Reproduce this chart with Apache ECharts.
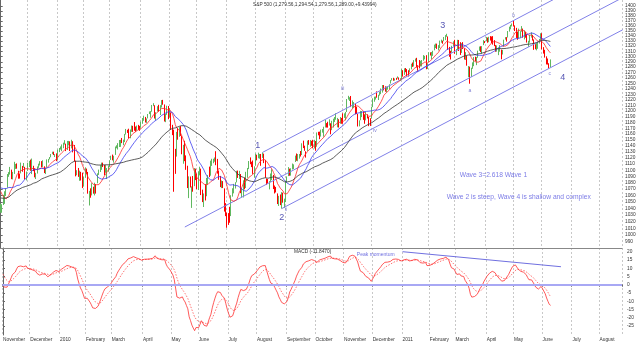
<!DOCTYPE html>
<html><head><meta charset="utf-8">
<script src="https://cdn.jsdelivr.net/npm/echarts@6/dist/echarts.min.js"></script>
<style>html,body{margin:0;padding:0;background:#fff}#c{width:640px;height:342px}</style>
</head><body><div id="c"></div>
<script>
// ---------- categories ----------
const firstDay = '2009-11-02';
const totalSlots = 456;
const holidays = ['2009-11-26','2009-12-25','2010-01-01','2010-01-18','2010-02-15','2010-04-02','2010-05-31','2010-07-05','2010-09-06','2010-11-25','2010-12-24','2011-01-17','2011-02-21','2011-04-22','2011-05-30','2011-07-04'];
const monthNames = ['January','February','March','April','May','June','July','August','September','October','November','December'];

// ---------- S&P 500 daily values (Sep 2009 - Oct 2009 warm-up closes for indicators) ----------
const warmupClose = [998.04,994.75,1003.24,1016.40,1025.39,1033.37,1044.14,1042.73,1049.34,1052.63,1068.76,1065.49,1068.30,1064.66,1071.66,1060.87,1050.78,1044.38,1062.98,1060.61,1057.08,
1029.85,1025.21,1040.46,1054.72,1057.58,1065.48,1071.49,1076.19,1073.19,1092.02,1096.56,1087.68,1097.91,1091.06,1081.40,1092.91,1079.60,1066.95,1063.41,1042.63,1066.11,1036.19];

const close = [
1042.88,1045.41,1046.50,1066.63,1069.30,1093.08,1093.01,1098.51,1087.24,1093.48,1109.30,1110.32,1109.80,1094.90,1091.38,1106.24,1105.65,1110.63,1091.49,1095.63,
1108.86,1109.24,1099.92,1105.98,1103.25,1091.94,1095.95,1102.35,1106.41,1114.11,1107.93,1109.18,1096.08,1102.47,1114.05,1118.02,1120.59,1126.48,1127.78,1126.20,1126.42,1115.10,
1132.99,1136.52,1137.14,1141.69,1144.98,1146.98,1136.22,1145.68,1148.46,1136.03,1150.23,1138.04,1116.48,1091.76,1096.78,1092.17,1097.50,1084.53,1073.87,
1089.19,1103.32,1097.28,1063.11,1066.19,1056.74,1070.52,1068.13,1078.47,1075.51,1094.87,1099.51,1106.75,1109.17,1108.01,1094.60,1105.24,1102.94,1104.49,
1115.71,1118.31,1118.79,1122.97,1138.70,1138.50,1140.45,1145.61,1150.24,1149.99,1150.51,1159.46,1166.21,1165.83,1159.90,1165.81,1174.17,1167.72,1165.73,1166.59,1173.22,1173.27,1169.43,
1178.10,1187.44,1189.44,1182.45,1186.44,1194.37,1196.48,1197.30,1210.65,1211.67,1192.13,1197.52,1207.17,1205.94,1208.67,1217.28,1212.05,1183.71,1191.36,1206.78,1186.69,
1202.26,1173.60,1165.90,1128.15,1110.88,1159.73,1155.79,1171.67,1157.44,1135.68,1136.94,1120.80,1115.05,1071.59,1087.69,1073.65,1074.03,1067.95,1103.06,1089.41,
1070.71,1098.38,1102.83,1064.88,1050.47,1062.00,1055.69,1086.84,1091.60,1089.63,1115.23,1114.61,1116.04,1117.51,1113.20,1095.31,1092.04,1073.69,1076.76,1074.57,1041.24,1030.71,
1027.37,1022.58,1028.06,1060.27,1070.25,1077.96,1078.75,1095.34,1095.17,1096.48,1064.88,1071.25,1083.48,1069.59,1093.67,1102.66,1115.01,1113.84,1106.13,1101.53,1101.60,
1125.86,1120.46,1127.24,1125.81,1121.64,1127.79,1121.06,1089.47,1083.61,1079.25,1079.38,1092.54,1094.16,1075.63,1071.69,1067.36,1051.87,1055.33,1047.22,1064.59,1048.92,1049.33,
1080.29,1090.10,1104.51,1091.84,1098.87,1104.18,1109.55,1121.90,1121.10,1125.07,1124.66,1125.59,1142.71,1139.78,1134.28,1124.83,1148.67,1142.16,1147.70,1144.73,1141.20,
1146.24,1137.03,1160.75,1159.97,1158.06,1165.15,1165.32,1169.77,1178.10,1173.81,1176.19,1184.71,1165.90,1178.17,1180.26,1183.08,1185.62,1185.64,1182.45,1183.78,1183.26,
1184.38,1193.57,1197.96,1221.06,1225.85,1223.25,1213.40,1218.71,1213.54,1199.21,1197.75,1178.34,1178.59,1196.69,1199.73,1197.84,1180.73,1198.35,1189.40,1187.76,1180.55,
1206.07,1221.53,1224.71,1223.12,1223.75,1228.28,1233.00,1240.40,1240.46,1241.59,1235.23,1242.87,1243.91,1247.08,1254.60,1258.84,1256.77,1257.54,1258.51,1259.78,1257.88,1257.64,
1271.87,1270.20,1276.56,1273.85,1271.50,1269.75,1274.48,1285.96,1283.76,1293.24,1295.02,1281.92,1280.26,1283.35,1290.84,1291.18,1296.63,1299.54,1276.34,1286.12,
1307.59,1304.03,1307.10,1310.87,1319.05,1324.57,1320.88,1321.87,1329.15,1332.32,1328.01,1336.32,1340.43,1343.01,1315.44,1307.40,1306.10,1319.88,1327.22,
1306.33,1308.44,1330.97,1321.15,1310.13,1321.82,1320.02,1295.11,1304.28,1296.39,1281.87,1256.88,1273.72,1279.21,1298.38,1293.77,1297.54,1309.66,1313.80,1310.19,1319.44,1328.26,1325.83,
1332.41,1332.87,1332.63,1335.54,1333.51,1328.17,1324.46,1314.16,1314.41,1314.52,1319.68,1305.14,1312.62,1330.36,1337.38,1335.25,1347.24,1355.66,1360.48,1363.61,
1361.22,1356.62,1347.32,1335.10,1340.20,1346.29,1357.16,1342.08,1348.65,1337.77,1329.47,1328.98,1340.68,1343.60,1333.27,1317.37,1316.28,1320.47,1325.69,1331.10,1345.20,
1314.55,1312.94,1300.16,1286.17,1284.94,1279.56,1289.00];

const open = [
1036.18,1042.6,1046,1047,1064.9,1072.3,1093,1093,1098.3,1087.6,1094.1,1109.2,1109.9,1099.1,1094.7,1094.9,1105.7,1105.7,1105.5,1091.1,
1098.9,1108.5,1109,1100.5,1105.5,1103,1091.1,1096.5,1103.9,1107.8,1114,1108.6,1106.4,1097,1105.3,1114.5,1118.8,1121.1,1127.5,1128.6,1125.5,1126.6,
1116.6,1132.7,1135.7,1136.3,1140.5,1145.96,1143.8,1137.3,1145.7,1147.7,1136,1147.9,1138.7,1115.5,1092.4,1095.8,1092.4,1096.9,1087.6,
1073.9,1090.1,1100.7,1097.3,1064.1,1065.5,1060.1,1069.7,1067.1,1075.9,1079.1,1096.1,1099,1105.5,1110,1107.5,1095.9,1101.2,1103.1,
1105.4,1117,1119.4,1119.1,1125.1,1138.4,1137.6,1140.2,1143,1151.7,1148.5,1150.8,1160,1166.1,1166.7,1157.3,1166,1172.9,1170,1167.6,1167.7,1174.2,1171.8,
1171.2,1178.7,1187.3,1188.2,1181.8,1187.1,1194.9,1195.9,1198.7,1210.8,1210.2,1192.1,1199,1207.2,1205.9,1207.9,1217.1,1209.9,1184.6,1193.3,1206.8,
1188.6,1197.5,1169.2,1164.4,1127,1122.3,1156.4,1155.4,1170,1157.2,1136.5,1138.8,1119.6,1107.3,1067.3,1084.8,1067.4,1075.5,1074.6,1102.6,
1087.3,1073,1098.8,1102.6,1065.8,1050.8,1062.8,1058.8,1082.7,1095,1091.2,1114,1115.9,1116.2,1122.8,1112.9,1095.6,1090.9,1074.1,1077.5,1071.1,1040.6,
1031.1,1027.7,1028.1,1028.5,1060.6,1070.5,1077.2,1080.6,1095.6,1094.5,1093.9,1066,1064.5,1084,1072.1,1092.2,1102.9,1117.4,1112.8,1108.1,1098.4,
1107.5,1125.3,1121,1125.6,1122.1,1122.8,1122.9,1116.9,1084,1082.2,1077.1,1081.2,1092.1,1092.4,1073.9,1073.4,1063.2,1048.98,1056.3,1049.3,1062.9,1046.9,
1049.7,1080.7,1090.6,1102.6,1092.4,1101.2,1104.6,1113.4,1121.2,1119.4,1123.9,1126.4,1126.4,1142.8,1139.5,1131.1,1131.7,1148.6,1142.3,1146.4,1145,
1143.5,1144.96,1138.7,1160.7,1159.6,1158.4,1165.3,1164.3,1171.3,1177.8,1177.5,1176.8,1178.6,1166.7,1179.1,1180.9,1184.7,1184.9,1184.5,1181.9,1183.9,
1185.7,1187.9,1193.8,1198.3,1221.2,1223.2,1223.6,1213.1,1213,1213.5,1200.4,1194.8,1178.3,1183.8,1196.1,1198.1,1194.2,1183.7,1194.2,1189.1,1182.9,
1186.6,1206.8,1219.9,1223.1,1223.9,1227.3,1227.4,1230.1,1233.2,1242.2,1241.8,1236.3,1243.6,1243.6,1249.4,1254.9,1257.5,1254.7,1259.1,1259.1,1259.4,1256.8,
1257.6,1272.9,1268.8,1276.3,1274.4,1270.8,1272.6,1275.7,1285.8,1282.9,1293.2,1294.5,1280.9,1283.6,1283.3,1290.2,1291.97,1297.5,1299.6,1276.5,
1289.1,1305.9,1302.8,1307,1311.9,1318.8,1322.5,1318.1,1318.7,1328.7,1330.4,1329.5,1334.4,1340.4,1338.9,1315.4,1307.1,1307.3,1321.6,
1328.6,1305.5,1312.4,1330.7,1322.7,1311,1322.4,1315.7,1293.4,1301.2,1262.1,1279.5,1261.6,1276.7,1281.7,1298.3,1292.2,1300.6,1311.8,1315.5,1309.4,1321.9,1327.4,
1329.5,1333.6,1332,1335.9,1334.8,1334,1329,1321.96,1314,1311.1,1314.5,1313.3,1305.99,1319.1,1333.2,1337.1,1336.8,1348.4,1353.2,1360.1,
1365.2,1359.8,1355.9,1344.2,1340.2,1340.2,1348.3,1354.5,1339.4,1347.8,1334.7,1326.1,1328.5,1342.4,1342,1333.1,1317.7,1316.4,1320.6,1325.7,1331.1,
1345.2,1314.5,1312.9,1300.3,1286.3,1285,1279.56];

const high = [
1047.4,1046.5,1061,1066.6,1071.3,1093.9,1097,1105.4,1101,1097.4,1113.7,1110.3,1111.1,1099.1,1094.7,1112.4,1107,1111.8,1105.5,1097.9,
1112.3,1115.2,1117.3,1119.1,1107.2,1103,1095.9,1106.2,1110.7,1114.8,1114.8,1116.2,1106.4,1103.7,1117.7,1118.5,1121.6,1126.5,1130.4,1130.4,1126.4,1127.6,
1133.9,1136.6,1139.2,1142.5,1145.4,1149.7,1143.8,1148.4,1148.5,1147.8,1150.4,1147.9,1141.6,1115.5,1100.1,1103.7,1099.5,1097.5,1096.1,
1089.4,1104.7,1102.7,1097.3,1067.1,1071.2,1079.3,1073.7,1080,1077.8,1095,1101,1108.2,1112.4,1112.4,1108.6,1108.3,1103.5,1107.5,
1116.1,1123.7,1125.6,1123.7,1139,1141.1,1144.7,1150,1150.2,1153.4,1150.5,1160.3,1168.8,1167.4,1169.2,1167.8,1174.7,1174.2,1180.7,1173,1174.6,1175.8,1174.1,
1181.4,1187.7,1191.8,1189.6,1187,1194.7,1199.2,1199.8,1210.7,1213.9,1210.2,1197.9,1208.5,1210.99,1210.3,1219.4,1219.8,1211.6,1195.1,1209.4,1208.9,
1205.1,1197.5,1175.9,1167.6,1135.1,1163.8,1170.5,1171.9,1173.6,1157.2,1141.8,1148.7,1124.3,1107.3,1090.2,1089.9,1074.3,1090.8,1103.5,1102.6,
1094.8,1098.4,1105.7,1102.6,1069.1,1063.1,1077.7,1087.8,1092.3,1105.9,1115.6,1118.7,1118.7,1120.9,1131.2,1118.5,1099.6,1090.9,1083.6,1082.6,1071.1,1048.1,
1033.6,1032.9,1042.5,1060.4,1071.3,1078.2,1080.8,1099.1,1099.5,1099.1,1093.9,1071.6,1083.9,1088.4,1097.5,1103.7,1115,1120.95,1113.9,1115.9,1106.4,
1127.3,1125.4,1128.8,1126.6,1126.6,1129.2,1127.2,1116.9,1086.7,1085.9,1082.6,1094.8,1101.7,1092.4,1075.6,1073.4,1063.2,1059.4,1061.5,1065.2,1064.4,1055.1,
1081.3,1090.1,1105.1,1102.6,1103.2,1110.9,1109.6,1123.9,1127.4,1126.5,1126.5,1131.5,1144.4,1148.9,1140.4,1131.1,1148.9,1149.9,1150,1148.6,1150.3,
1150.3,1148.2,1162.8,1163.9,1164.2,1167.7,1168.7,1172.6,1184.4,1178.9,1181.2,1185.5,1178.6,1182.9,1186.5,1189.4,1196.1,1187.9,1185.6,1189.5,1187.9,
1195.8,1195.9,1198.4,1221.3,1227.1,1224.6,1226.8,1218.8,1215.9,1213.5,1207.4,1194.8,1183.6,1200.3,1199.97,1198.9,1194.2,1198.7,1194.2,1189.6,1187.4,
1207.6,1222.5,1225.6,1225.8,1235.1,1228.9,1234.7,1240.4,1246.7,1246.6,1244.3,1243.8,1244.3,1248.1,1255.8,1259.4,1260,1258.6,1259.9,1262.6,1260.6,1259.3,
1276.2,1274.1,1277.6,1278.2,1276.2,1274.1,1277.6,1286.3,1288.6,1293.2,1296.1,1297.5,1283.5,1293.3,1291.9,1293.3,1302.7,1301.3,1302.5,1287.2,
1308.1,1308,1308.6,1311,1322.9,1324.9,1324.8,1321.9,1330.8,1332.6,1330.6,1337.8,1341.5,1344.1,1338.9,1318.4,1310.9,1320.6,1329.4,
1332.3,1314.4,1332.3,1332,1327.7,1325.7,1327.7,1315.7,1308.4,1301.2,1281.9,1280.9,1278.7,1288.9,1299,1299.6,1299.1,1311.3,1319.2,1319.7,1320,1331.7,1329.8,
1337.9,1336.7,1338.2,1339.5,1338.8,1339.5,1331.7,1321.96,1321.3,1316.8,1322,1313.3,1312.7,1332.6,1337.5,1337.6,1349.6,1358.3,1361.7,1364.6,
1370.6,1360.8,1355.9,1348.2,1354.4,1349.4,1359.4,1354.5,1351,1348,1343.3,1330.4,1341.6,1346.8,1342,1333.1,1323.7,1325.9,1328.5,1334,1345.2,
1345.2,1318,1312.9,1300.3,1296.2,1287.2,1294.54];

const low = [
1033.4,1033.4,1045.2,1047,1059.3,1072.3,1089.4,1093,1085.7,1085.3,1094.1,1102.2,1102.5,1086.4,1086.6,1094.9,1097.6,1104.2,1085.3,1083.7,
1098.9,1105.1,1099.1,1093.8,1098.6,1088.6,1085.9,1094.7,1103.9,1107.8,1105,1105.4,1095.4,1093.9,1105.3,1112.4,1117.6,1121.1,1126.3,1124.8,1121.5,1114.8,
1116.6,1129.6,1133.9,1131.3,1136.2,1142.3,1131.4,1133.2,1140.9,1131.4,1135.9,1129.3,1114.2,1090.2,1091.9,1089.4,1083.1,1083.5,1071.6,
1073.9,1087.9,1093.8,1062.8,1044.5,1056.5,1060.1,1062.8,1060.1,1062.9,1079.1,1092.5,1097.2,1100.7,1105.2,1092.2,1095.9,1086,1097.6,
1105.4,1116.8,1116.1,1112.4,1125.1,1136.1,1134,1138.2,1138.4,1144.7,1141.2,1146.5,1159.2,1162,1152.9,1152.9,1163.8,1163.8,1165.7,1163.9,1165.8,1166.7,1165.5,
1170.7,1177.7,1182.9,1179.9,1179.2,1187.1,1194.6,1188.2,1198.7,1208.6,1186.8,1183.7,1199,1198.9,1192.8,1206.2,1211.1,1181.6,1180.5,1193.3,1185.6,
1188.6,1168.1,1158.2,1065.8,1094.2,1122.3,1150.5,1155.4,1156.9,1126.1,1110.6,1114.8,1100.7,1071.6,1055.9,1072.5,1040.8,1065.9,1074.6,1084.2,
1069.9,1068.5,1091.8,1060.6,1049.7,1042.2,1052.2,1058.8,1077.5,1089,1091.2,1107.1,1111.4,1113.9,1108.2,1094.6,1084.7,1073.1,1071.5,1071.6,1035.2,1028.3,
1010.9,1015.2,1018.4,1028.4,1058.2,1063.3,1070.8,1080.6,1087.7,1086,1063.6,1056.9,1056.9,1069.6,1071.6,1087.9,1101.8,1109.8,1105.1,1094.2,1088,
1107.5,1116.1,1119.5,1118.8,1107.2,1120.1,1111.6,1088,1076.7,1079,1069.5,1081.2,1084.1,1070,1063.1,1064.7,1046.7,1043.8,1045.1,1039.7,1048.8,1040.9,
1049.7,1080.5,1090.6,1091.2,1091.3,1101.2,1101.9,1113.4,1115.4,1114.6,1118.9,1122.4,1124.9,1136.4,1131.9,1120.6,1131.7,1141.9,1138.6,1140.3,1136.1,
1135.7,1131.9,1138.7,1157.9,1151.4,1155.7,1162.5,1155.6,1171.3,1171.2,1171.1,1174.6,1159.7,1166.7,1171.3,1180.9,1184.7,1171.6,1171.2,1177.7,1177.7,
1177.7,1187.9,1183.6,1198.3,1220.3,1217.8,1207,1204.3,1206.3,1194.1,1194.6,1173,1173.2,1183.8,1189.3,1184.5,1177.7,1183.7,1186.9,1173.6,1174,
1186.6,1206.8,1216.5,1220.3,1223.7,1219.5,1227.4,1230.1,1232.9,1236.9,1234.5,1232.9,1238.2,1238.6,1249.4,1254.9,1254.5,1254.7,1256.2,1258.6,1256.2,1254.2,
1257.6,1262.2,1265.4,1270.4,1262.7,1262.3,1270,1275.7,1280.4,1281.1,1290.2,1279.4,1271.3,1277.5,1281.1,1281.1,1291.97,1294.6,1275.9,1276.5,
1289.1,1301.9,1294.8,1301.2,1311.9,1316.3,1314.6,1311.7,1316.1,1326.5,1324.6,1329.5,1331.7,1338.1,1312.8,1299.4,1294.3,1307.3,1320,
1305.3,1302.6,1312.4,1310.6,1303,1306.9,1314.3,1294.3,1293.4,1282.6,1261.1,1249.1,1261.6,1276.7,1281.7,1290.8,1283.6,1297.5,1310.8,1308.6,1305.3,1321.9,1325.8,
1329.5,1326.6,1327.6,1330.9,1326,1322.9,1320,1309.2,1309.3,1302.6,1309.2,1294.7,1303.8,1319.1,1332.6,1328.8,1336.8,1348.4,1353,1358.7,
1358.6,1349.6,1335.9,1332.3,1335.1,1336.2,1348.3,1336.4,1333.1,1336.4,1326.9,1318.5,1326.7,1336.6,1330.7,1312.8,1313.9,1311.8,1314.8,1325.1,1330.4,
1313.7,1305.6,1297.9,1284.9,1284.7,1277.4,1279.56];

// ---------- axis tick labels ----------
const priceTicks = [990,1000,1010,1020,1030,1040,1050,1060,1070,1080,1090,1100,1110,1120,1130,1140,1150,1160,1170,1180,1190,1200,1210,1220,1230,1240,1250,1260,1270,1280,1290,1300,1310,1320,1330,1340,1350,1360,1370,1380,1390,1400];
const macdTicks = [-25,-20,-15,-10,-5,0,5,10,15,20];

// ---------- annotations (data coordinates: [slot index, value]) ----------
const channelUpper = [[192,1129.24],[420,1435.6]];
const channelMiddle = [[135,1012],[456,1417.5]];
const channelLower = [[206,1039.7],[456,1352]];
const momentumLine = [[294,20.0],[410.6,10.9]];
const waveMarks = [['1',188.5,1139.9],['2',206.1,1025.5],['3',324.1,1361.5],['4',412.0,1259.6]];
const subMarks = [['ii',209.1,1037.6],['iii',250.8,1239.4],['iv',274.3,1165.3],['a',343.9,1235.8],['b',376.1,1379.7],['c',402.5,1267.0]];
const notes = [['Wave 3=2.618 Wave 1',336.6,1092.4],['Wave 2 is steep, Wave 4 is shallow and complex',327.0,1057.6]];
const macdNotes = [['Peak momentum',260.4,18.0]];

// ---------- checks ----------
const n = close.length;
if (open.length!==n||high.length!==n||low.length!==n) throw new Error('len mismatch o'+open.length+' h'+high.length+' l'+low.length+' c'+n);

// ---------- build ----------
const dates=[]; {let d=new Date(firstDay+'T00:00:00Z'); while(dates.length<totalSlots){const wd=d.getUTCDay(); const s=d.toISOString().slice(0,10); if(wd!==0&&wd!==6&&!holidays.includes(s)) dates.push(s); d.setUTCDate(d.getUTCDate()+1);}}
const isMonthStart = i => i===0 || dates[i].slice(0,7)!==dates[i-1].slice(0,7);
const monthLabel = s => { const m=+s.slice(5,7); return m===1 ? s.slice(0,4) : monthNames[m-1]; };

const candles = close.map((c,i)=>[open[i],c,low[i],high[i]]);
const W = warmupClose.length;
const allClose = warmupClose.concat(close);
function sma(p){ return close.map((_,i)=>{const j=i+W; const s=Math.max(0,j-p+1); let t=0; for(let k=s;k<=j;k++) t+=allClose[k]; return t/(j-s+1);}); }
function ema(arr,p){ const k=2/(p+1); let e=arr[0]; return arr.map((v,i)=> (e = i===0 ? v : v*k+e*(1-k))); }
const e12=ema(allClose,12), e26=ema(allClose,26);
const macdAll=e12.map((v,i)=>v-e26[i]);
const sigAll=ema(macdAll,9);
const macd=macdAll.slice(W), signal=sigAll.slice(W);

const FONT='Liberation Sans, Arial, sans-serif';
const gridSplit = {show:true, interval:(i)=>isMonthStart(i), lineStyle:{color:'#c8c8c8', type:[2,2], width:1}};
const txt = (arr, opt) => arr.map(a=>({value:[a[1],a[2]], label:Object.assign({show:true, formatter:a[0]}, opt)}));

const chart = echarts.init(document.getElementById('c'), null, {renderer:'canvas'});
chart.setOption({
  animation:false,
  backgroundColor:'#fff',
  textStyle:{fontFamily:FONT},
  title:[
    {text:'S&P 500 (1,279.56,1,294.54,1,279.56,1,289.00,+9.43994)', left:253, top:2, padding:0, textStyle:{fontSize:4.8, fontWeight:'normal', color:'#333', fontFamily:FONT}},
    {text:'MACD (-11.8470)', left:294, top:249.5, padding:0, textStyle:{fontSize:4.8, fontWeight:'normal', color:'#333', fontFamily:FONT}}
  ],
  grid:[{left:0,right:18,top:0,height:248},{left:0,right:18,top:248,height:87}],
  xAxis:[
    {type:'category', gridIndex:0, data:dates, boundaryGap:true, axisLine:{show:true, lineStyle:{color:'#888', width:1}}, axisTick:{show:false}, axisLabel:{show:false}, splitLine:gridSplit},
    {type:'category', gridIndex:1, data:dates, boundaryGap:true, axisLine:{show:true, lineStyle:{color:'#666', width:1}},
      axisTick:{show:true, interval:(i)=>isMonthStart(i), length:2, lineStyle:{color:'#666'}},
      axisLabel:{show:true, interval:(i)=>isMonthStart(i), formatter:(v)=>monthLabel(v), fontSize:4.8, color:'#333', align:'left', margin:2, fontFamily:FONT},
      splitLine:gridSplit},
    {type:'value', gridIndex:0, min:-0.5, max:totalSlots-0.5, show:false},
    {type:'value', gridIndex:1, min:-0.5, max:totalSlots-0.5, show:false}
  ],
  yAxis:[
    {type:'log', logBase:10, gridIndex:0, position:'right', min:981.3, max:1412.5,
      axisLine:{show:true, lineStyle:{color:'#666'}}, axisTick:{show:true, customValues:priceTicks, length:2, lineStyle:{color:'#666'}},
      axisLabel:{show:true, customValues:priceTicks, formatter:(v)=>String(Math.round(v)), fontSize:4.8, color:'#333', margin:3, fontFamily:FONT}, splitLine:{show:false}},
    {type:'value', gridIndex:1, position:'right', min:-30.45, max:22.24,
      axisLine:{show:true, lineStyle:{color:'#666'}}, axisTick:{show:true, customValues:macdTicks, length:2, lineStyle:{color:'#666'}},
      axisLabel:{show:true, customValues:macdTicks, formatter:(v)=>String(Math.round(v)), fontSize:4.8, color:'#333', margin:5, fontFamily:FONT}, splitLine:{show:false}}
  ],
  series:[
    {type:'line', xAxisIndex:2, yAxisIndex:0, data:channelUpper, symbol:'none', lineStyle:{color:'#8080e8', width:1}, silent:true},
    {type:'line', xAxisIndex:2, yAxisIndex:0, data:channelMiddle, symbol:'none', lineStyle:{color:'#8080e8', width:1}, silent:true},
    {type:'line', xAxisIndex:2, yAxisIndex:0, data:channelLower, symbol:'none', lineStyle:{color:'#8080e8', width:1}, silent:true},
    {type:'candlestick', xAxisIndex:0, yAxisIndex:0, data:candles, barWidth:1,
      itemStyle:{color:'#86d086', color0:'#ff0000', borderColor:'#60b860', borderColor0:'#ff0000', borderWidth:1}},
    {type:'line', xAxisIndex:0, yAxisIndex:0, data:sma(10), symbol:'none', lineStyle:{color:'#ff2a2a', width:0.8}},
    {type:'line', xAxisIndex:0, yAxisIndex:0, data:sma(20), symbol:'none', lineStyle:{color:'#3c3cf0', width:0.8}},
    {type:'line', xAxisIndex:0, yAxisIndex:0, data:sma(50), symbol:'none', lineStyle:{color:'#333', width:0.8}},
    {type:'scatter', xAxisIndex:2, yAxisIndex:0, symbolSize:0, data:txt(waveMarks,{position:'inside', fontSize:9, color:'#2a2aa0', fontFamily:FONT})},
    {type:'scatter', xAxisIndex:2, yAxisIndex:0, symbolSize:0, data:txt(subMarks,{position:'inside', fontSize:5, color:'#6060c8', fontFamily:FONT})},
    {type:'scatter', xAxisIndex:2, yAxisIndex:0, symbolSize:0, data:txt(notes,{position:'inside', align:'left', fontSize:6.7, color:'#5a5ae0', fontFamily:FONT})},
    {type:'line', xAxisIndex:1, yAxisIndex:1, data:signal, symbol:'none', lineStyle:{color:'#ff5050', width:0.8, type:[1.5,1.5]}},
    {type:'line', xAxisIndex:1, yAxisIndex:1, data:macd, symbol:'none', lineStyle:{color:'#ff3030', width:0.8},
      markLine:{silent:true, symbol:'none', label:{show:false}, lineStyle:{color:'#a8a8f4', width:2, type:'solid'}, data:[{yAxis:0}]}},
    {type:'line', xAxisIndex:3, yAxisIndex:1, data:momentumLine, symbol:'none', lineStyle:{color:'#7070e0', width:1}},
    {type:'scatter', xAxisIndex:3, yAxisIndex:1, symbolSize:0, data:txt(macdNotes,{position:'inside', align:'left', fontSize:5, color:'#4a4ad8', fontFamily:FONT})}
  ]
});
</script></body></html>
